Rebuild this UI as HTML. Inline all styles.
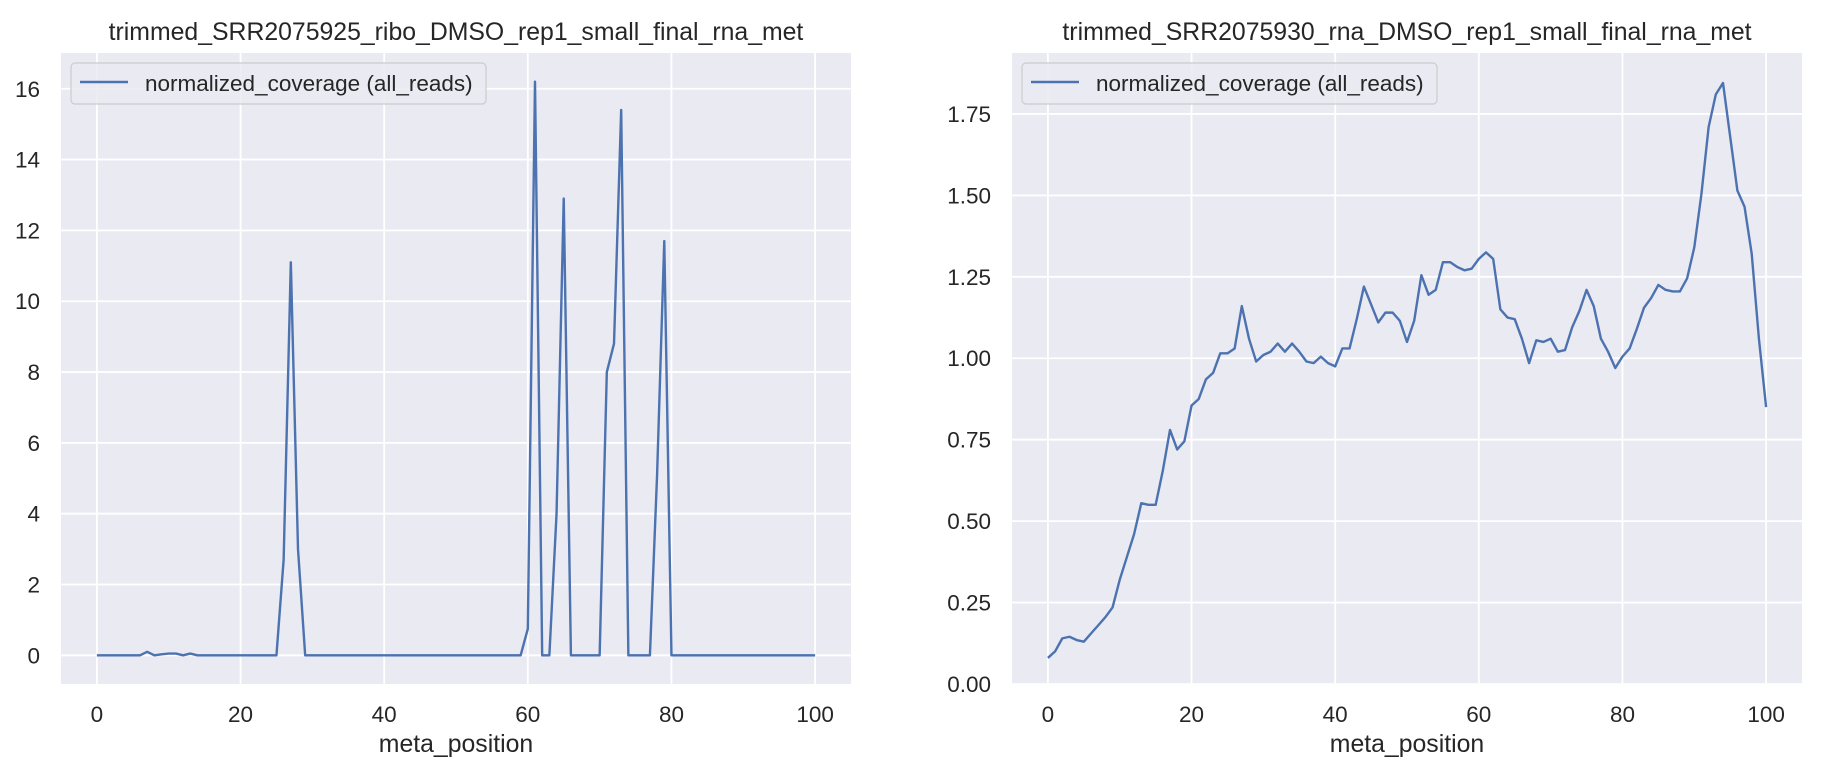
<!DOCTYPE html>
<html><head><meta charset="utf-8"><style>
body{margin:0;background:#fff;}
svg{display:block;font-family:"Liberation Sans","DejaVu Sans",sans-serif;}
</style></head><body>
<svg id="fig" width="1826" height="773" viewBox="0 0 1826 773" xmlns="http://www.w3.org/2000/svg"></svg>
<script>
const positions = Array.from({length:101},(_,i)=>i);
const riboValues = [0,0,0,0,0,0,0,0.1,0,0.03,0.05,0.05,0,0.05,0,0,0,0,0,0,0,0,0,0,0,0,2.7,11.1,3.0,0,
0,0,0,0,0,0,0,0,0,0,0,0,0,0,0,0,0,0,0,0,0,0,0,0,0,0,0,0,0,0,0.75,16.2,0,0,4.0,12.9,0,0,0,0,
0,8.0,8.8,15.4,0,0,0,0,5.1,11.7,0,0,0,0,0,0,0,0,0,0,0,0,0,0,0,0,0,0,0,0,0];
const rnaValues = [0.08,0.10,0.14,0.145,0.135,0.13,0.155,0.18,0.205,0.235,0.32,0.39,0.46,0.555,0.55,0.55,0.655,0.78,0.72,0.745,
0.855,0.875,0.935,0.955,1.015,1.015,1.03,1.16,1.06,0.99,1.01,1.02,1.045,1.02,1.045,1.02,0.99,0.985,1.005,0.985,
0.975,1.03,1.03,1.12,1.22,1.165,1.11,1.14,1.14,1.115,1.05,1.115,1.255,1.195,1.21,1.295,1.295,1.28,1.27,1.275,
1.305,1.325,1.305,1.15,1.125,1.12,1.06,0.985,1.055,1.05,1.06,1.02,1.025,1.095,1.145,1.21,1.16,1.06,1.02,0.97,
1.005,1.03,1.09,1.155,1.185,1.225,1.21,1.205,1.205,1.245,1.34,1.505,1.71,1.81,1.845,1.68,1.515,1.465,1.32,1.06,0.85];
const xTicks = [0,20,40,60,80,100];
const riboYTicks = [0,2,4,6,8,10,12,14,16];
const rnaYTicks = [0,0.25,0.5,0.75,1.0,1.25,1.5,1.75];
const riboYLabels = ["0","2","4","6","8","10","12","14","16"];
const rnaYLabels = ["0.00","0.25","0.50","0.75","1.00","1.25","1.50","1.75"];

const NS="http://www.w3.org/2000/svg";
const svg=document.getElementById('fig');
function mk(tag,attrs,parent){const e=document.createElementNS(NS,tag);for(const k in attrs)e.setAttribute(k,attrs[k]);(parent||svg).appendChild(e);return e;}

function panel(cfg){
  const g=mk('g',{});
  
  
  const L=cfg.left,T=53,W=790,B=684;
  const sx=v=>L+(v-cfg.xmin)/(cfg.xmax-cfg.xmin)*W;
  const sy=v=>B-(v-cfg.ymin)/(cfg.ymax-cfg.ymin)*(B-T);
  const bg=mk('rect',{x:L,y:T,width:W,height:B-T,fill:'#eaeaf2'},g);
  
  
  cfg.yt.forEach((v,i)=>{
    const y=sy(v);
    const ln=mk('line',{x1:L,x2:L+W,y1:y,y2:y,stroke:'#fff','stroke-width':1.8},g);
    
    
    const t=mk('text',{x:L-21,y:y+8,'text-anchor':'end','font-size':22.5,fill:'#262626'},g);
    
    
    t.textContent=cfg.yl[i];
  });
  xTicks.forEach(v=>{
    const x=sx(v);
    const ln=mk('line',{x1:x,x2:x,y1:T,y2:B,stroke:'#fff','stroke-width':1.8},g);
    
    
    const t=mk('text',{x:x,y:722,'text-anchor':'middle','font-size':22.5,fill:'#262626'},g);
    
    
    t.textContent=String(v);
  });
  const pts=positions.map((p,i)=>sx(p).toFixed(2)+','+sy(cfg.vals[i]).toFixed(2)).join(' ');
  const pl=mk('polyline',{points:pts,fill:'none',stroke:'#4c72b0','stroke-width':2.4,'stroke-linejoin':'round'},g);
  
  
  const title=mk('text',{x:L+W/2,y:40,'text-anchor':'middle','font-size':24.8,fill:'#262626'},g);
  
  
  title.textContent=cfg.title;
  const xl=mk('text',{x:L+W/2,y:752,'text-anchor':'middle','font-size':24.8,fill:'#262626'},g);
  
  
  xl.textContent='meta_position';
  const lg=mk('g',{},g);
  
  
  mk('rect',{x:L+10,y:63,width:415,height:41,rx:4,fill:'#eaeaf2','fill-opacity':0.85,stroke:'#cccccc','stroke-width':1.2},lg);
  mk('line',{x1:L+19,x2:L+67,y1:82,y2:82,stroke:'#4c72b0','stroke-width':2.4},lg);
  const lt=mk('text',{x:L+84,y:91,'font-size':22.5,fill:'#262626'},lg);
  
  
  lt.textContent='normalized_coverage (all_reads)';
}
panel({name:'ribo-chart',left:61,xmin:-5,xmax:105,ymin:-0.81,ymax:17.01,vals:riboValues,yt:riboYTicks,yl:riboYLabels,title:'trimmed_SRR2075925_ribo_DMSO_rep1_small_final_rna_met'});
panel({name:'rna-chart',left:1012,xmin:-5,xmax:105,ymin:0,ymax:1.937,vals:rnaValues,yt:rnaYTicks,yl:rnaYLabels,title:'trimmed_SRR2075930_rna_DMSO_rep1_small_final_rna_met'});
</script>
</body></html>
